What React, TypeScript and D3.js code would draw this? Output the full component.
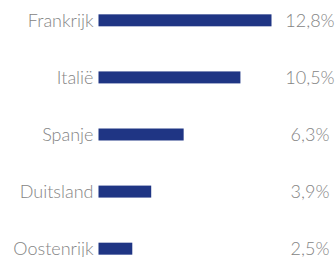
import React from "react";
import * as d3 from "d3";

const WIDTH = 335;
const HEIGHT = 257;
const MARGIN = { top: 0, right: 0, bottom: 0, left: 98.5 };

const countries = ["Frankrijk", "Italië", "Spanje", "Duitsland", "Oostenrijk"];
const shares = [12.8, 10.5, 6.3, 3.9, 2.5];
const shareLabels = ["12,8%", "10,5%", "6,3%", "3,9%", "2,5%"];

const BAR_COLOR = "#1f3584";
const TEXT_COLOR = "#848484";

const App = () => {
  const xScale = d3.scaleLinear().domain([0, 12.8]).range([0, 173]);
  const yScale = d3
    .scaleBand()
    .domain(countries)
    .range([-8.5, 277.5])
    .paddingInner(0.79)
    .paddingOuter(0.4);

  const barH = yScale.bandwidth();

  return (
    <svg
      width={WIDTH}
      height={HEIGHT}
      style={{ position: "absolute", left: 0, top: 0 }}
    >
      <g transform={`translate(${MARGIN.left},${MARGIN.top})`}>
        {countries.map((c, i) => {
          const y = yScale(c) ?? 0;
          return (
            <g key={c}>
              <rect x={0} y={y} width={xScale(shares[i])} height={barH} fill={BAR_COLOR} />
              <text
                x={-5}
                y={y + barH / 2}
                dy="0.36em"
                textAnchor="end"
                fill={TEXT_COLOR}
                fontFamily="Lato"
                fontWeight={300}
                fontSize={18}
              >
                {c}
              </text>
              <text
                x={211.5}
                y={y + barH / 2}
                dy="0.36em"
                textAnchor="middle"
                fill={TEXT_COLOR}
                fontFamily="Lato"
                fontWeight={300}
                fontSize={18}
              >
                {shareLabels[i]}
              </text>
            </g>
          );
        })}
      </g>
    </svg>
  );
};

export default App;
